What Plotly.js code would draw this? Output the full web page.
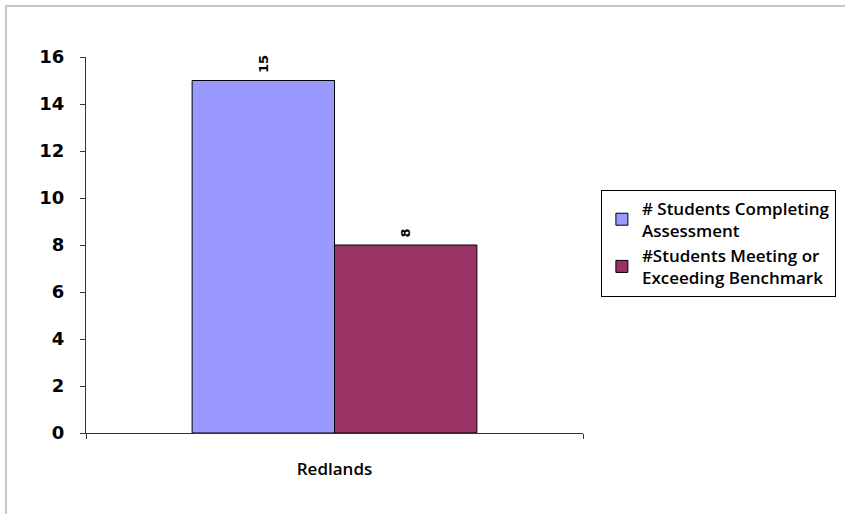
<!DOCTYPE html>
<html>
<head>
<meta charset="utf-8">
<script src="https://cdn.plot.ly/plotly-3.0.1.min.js"></script>
<style>
html,body{margin:0;padding:0;background:#fff;}
#frame{position:absolute;left:5px;top:5px;width:845px;height:514px;border-left:2px solid #c8c8c8;border-top:2px solid #c8c8c8;}
#chart{position:absolute;left:0;top:0;width:845px;height:514px;}
</style>
</head>
<body>
<div id="frame"></div>
<div id="chart"></div>
<script>
const categories = ["Redlands"];
const seriesNames = ["# Students Completing<br>Assessment", "#Students Meeting or<br>Exceeding Benchmark"];
const completing = [15];
const meeting = [8];
const yTicks = [0, 2, 4, 6, 8, 10, 12, 14, 16];

const colors = ["#9999FF", "#993366"];
const values = [completing, meeting];

const traces = values.map((v, i) => ({
  type: "bar",
  x: categories,
  y: v,
  name: seriesNames[i],
  marker: {color: colors[i], line: {color: "#000", width: 1}},
  text: v.map(n => "\u00a0" + n),
  textposition: "outside",
  textangle: -90,
  cliponaxis: false,
  textfont: {family: "DejaVu Sans, sans-serif", size: 13, color: "#000", weight: "bold"},
  hoverinfo: "none"
}));

const layout = {
  width: 845, height: 514,
  margin: {l: 86, r: 262, t: 57, b: 81, autoexpand: false},
  paper_bgcolor: "rgba(0,0,0,0)",
  plot_bgcolor: "rgba(0,0,0,0)",
  barmode: "group",
  bargap: 0.427,
  bargroupgap: 0,
  font: {family: "Open Sans, sans-serif", color: "#000"},
  xaxis: {
    range: [-0.5, 0.5],
    showline: true, linecolor: "#333", linewidth: 1,
    ticks: "outside", tickson: "boundaries", ticklen: 5, tickcolor: "#333",
    tickfont: {size: 17, weight: 600},
    ticklabelstandoff: 21,
    automargin: false,
    showgrid: false, zeroline: false
  },
  yaxis: {
    range: [0, 16],
    tickvals: yTicks,
    showline: true, linecolor: "#333", linewidth: 1,
    ticks: "outside", ticklen: 5, tickcolor: "#333",
    tickfont: {family: "DejaVu Sans, sans-serif", size: 18, weight: "bold"},
    ticklabelstandoff: 12,
    automargin: false,
    showgrid: false, zeroline: false
  },
  showlegend: true,
  legend: {
    x: 1.036, xanchor: "left", y: 0.505, yanchor: "middle",
    bordercolor: "#000", borderwidth: 1,
    font: {size: 17, weight: 600},
    itemwidth: 30,
    tracegroupgap: 16
  }
};

Plotly.newPlot("chart", traces, layout, {displayModeBar: false, staticPlot: true});
</script>
</body>
</html>
